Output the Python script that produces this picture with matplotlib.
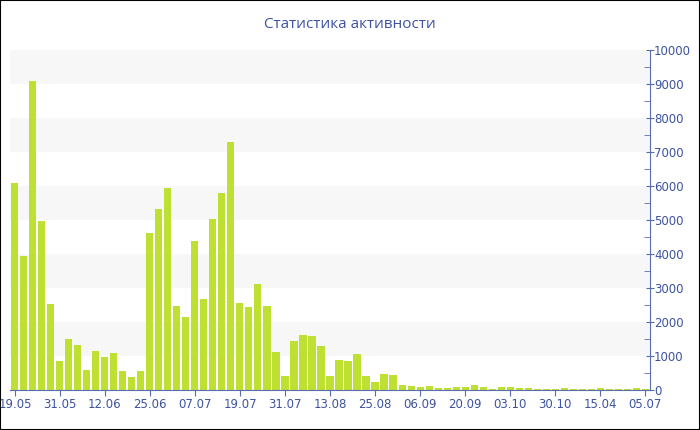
import numpy as np
import matplotlib
matplotlib.use('Agg')
import matplotlib.pyplot as plt
from matplotlib.ticker import MultipleLocator

title = 'Статистика активности'
tick_labels = ['19.05', '31.05', '12.06', '25.06', '07.07', '19.07', '31.07', '13.08',
               '25.08', '06.09', '20.09', '03.10', '30.10', '15.04', '05.07']
values = [6080, 3950, 9100, 4970, 2520, 850, 1500, 1320, 590, 1140,
          960, 1080, 570, 370, 570, 4630, 5320, 5950, 2470, 2160,
          4380, 2680, 5030, 5790, 7290, 2570, 2450, 3110, 2470, 1130,
          400, 1430, 1610, 1580, 1300, 420, 870, 860, 1050, 410,
          225, 480, 430, 160, 110, 80, 110, 50, 60, 80,
          80, 160, 80, 40, 80, 80, 50, 50, 30, 30,
          30, 50, 30, 30, 30, 50, 30, 30, 30, 50,
          30]

blue = '#3d52a0'
axis_col = '#5a6cb0'
bar_col = '#bde032'

fig = plt.figure(figsize=(7, 4.3), dpi=100)
ax = fig.add_axes([10/700, 40/430, 640/700, 340/430])

x = np.arange(len(values))
# alternating background bands
for lo in range(1000, 10000, 2000):
    ax.axhspan(lo, lo + 1000, color='#f7f7f7', zorder=0, lw=0)
ax.bar(x, values, width=0.78, color=bar_col, zorder=2)

ax.set_xlim(-0.55, len(values) - 0.45)
ax.set_ylim(0, 10000)
ax.set_xticks(x[::5])
ax.set_xticklabels(tick_labels)
ax.yaxis.tick_right()
ax.yaxis.set_major_locator(MultipleLocator(1000))
ax.yaxis.set_minor_locator(MultipleLocator(500))

for s in ['top', 'left']:
    ax.spines[s].set_visible(False)
ax.spines['right'].set_color(axis_col)
ax.spines['bottom'].set_color(axis_col)
ax.tick_params(axis='x', colors=axis_col, labelcolor=blue, labelsize=8.5, length=4, pad=2)
ax.tick_params(axis='y', which='major', colors=axis_col, labelcolor=blue, labelsize=8.5,
               direction='inout', length=6, pad=0)
ax.tick_params(axis='y', which='minor', colors=axis_col, direction='in', length=4)

fig.text(0.5, 1 - 25/430, title, ha='center', va='center', color=blue,
         fontsize=11, family='Open Sans')

fig.patches.append(plt.Rectangle((0, 0), 1, 1, transform=fig.transFigure, fill=False,
                                 edgecolor='black', lw=1.5))
fig.savefig('out.png', dpi=100)
